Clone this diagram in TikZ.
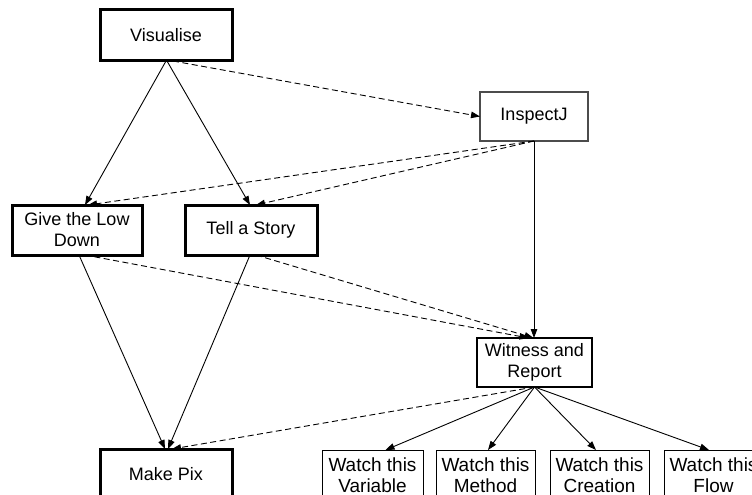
\documentclass[tikz,border=0pt]{standalone}
\usepackage{fontspec}
\setmainfont{Liberation Sans}
\usetikzlibrary{arrows.meta}
\tikzset{
  box/.style={draw, outer sep=0pt, inner sep=2pt, align=center, font=\fontsize{18}{21}\selectfont},
  thickbox/.style={box, line width=3pt},
  thinbox/.style={box, line width=1.1pt},
  greybox/.style={box, line width=1.3pt, draw=black!70},
  watchbox/.style={box, line width=1pt, font=\fontsize{19}{21}\selectfont, text depth=0pt},
  conn/.style={line width=0.9pt, -{Triangle[length=9pt,width=6.5pt]}},
  dconn/.style={conn, dash pattern=on 6pt off 3.5pt},
}
\begin{document}
\begin{tikzpicture}[x=1pt,y=-1pt]
\clip (0,0) rectangle (752,495);
\fill[white] (0,0) rectangle (752,495);
\node[thickbox, minimum width=132pt, minimum height=51pt] (vis) at (166,35.5) {Visualise};
\node[greybox, minimum width=108pt, minimum height=49pt] (ins) at (534,116.5) {InspectJ};
\node[thickbox, minimum width=130pt, minimum height=50pt] (gld) at (77,230) {Give the Low\\Down};
\node[thickbox, minimum width=132pt, minimum height=50pt] (tas) at (251,230) {Tell a Story};
\node[thinbox, minimum width=115pt, minimum height=49pt] (wit) at (534.5,362.5) {Witness and\\Report};
\node[thickbox, minimum width=132pt, minimum height=51pt] (mp) at (166,474.5) {Make Pix};
\node[watchbox, minimum width=101pt, minimum height=50pt, anchor=north] (wv) at (372.5,450) {Watch this\\Variable};
\node[watchbox, minimum width=99pt, minimum height=50pt, anchor=north] (wm) at (485.5,450) {Watch this\\Method};
\node[watchbox, minimum width=99pt, minimum height=50pt, anchor=north] (wc) at (599.5,450) {Watch this\\Creation};
\node[watchbox, minimum width=99pt, minimum height=50pt, anchor=north] (wf) at (713.5,450) {Watch this\\Flow};

% from Visualise
\draw[conn] (vis.south) -- ([xshift=8pt]gld.north);
\draw[conn] ([xshift=1pt]vis.south) -- ([xshift=-1pt]tas.north);
\draw[dconn] ([xshift=7pt]vis.south) -- (ins.west);
% from InspectJ
\draw[dconn] (ins.south) -- ([xshift=11pt]gld.north);
\draw[dconn] (ins.south) -- ([xshift=5pt]tas.north);
\draw[conn] (ins.south) -- (ins.south |- wit.north);
% to Make Pix
\draw[conn] ([xshift=2pt]gld.south) -- ([xshift=-1pt]mp.north);
\draw[conn] ([xshift=-1pt]tas.south) -- ([xshift=2pt]mp.north);
% to Witness
\draw[dconn] ([xshift=8pt]gld.south) -- ([xshift=-6pt]wit.north);
\draw[dconn] ([xshift=5pt]tas.south) -- ([xshift=-1pt]wit.north);
% from Witness
\draw[dconn] (wit.south) -- ([xshift=6pt]mp.north);
\draw[conn] (wit.south) -- ([xshift=13pt]wv.north);
\draw[conn] (wit.south) -- ([xshift=2.5pt]wm.north);
\draw[conn] (wit.south) -- ([xshift=-3.5pt]wc.north);
\draw[conn] (wit.south) -- ([xshift=-4.5pt]wf.north);
\end{tikzpicture}
\end{document}
